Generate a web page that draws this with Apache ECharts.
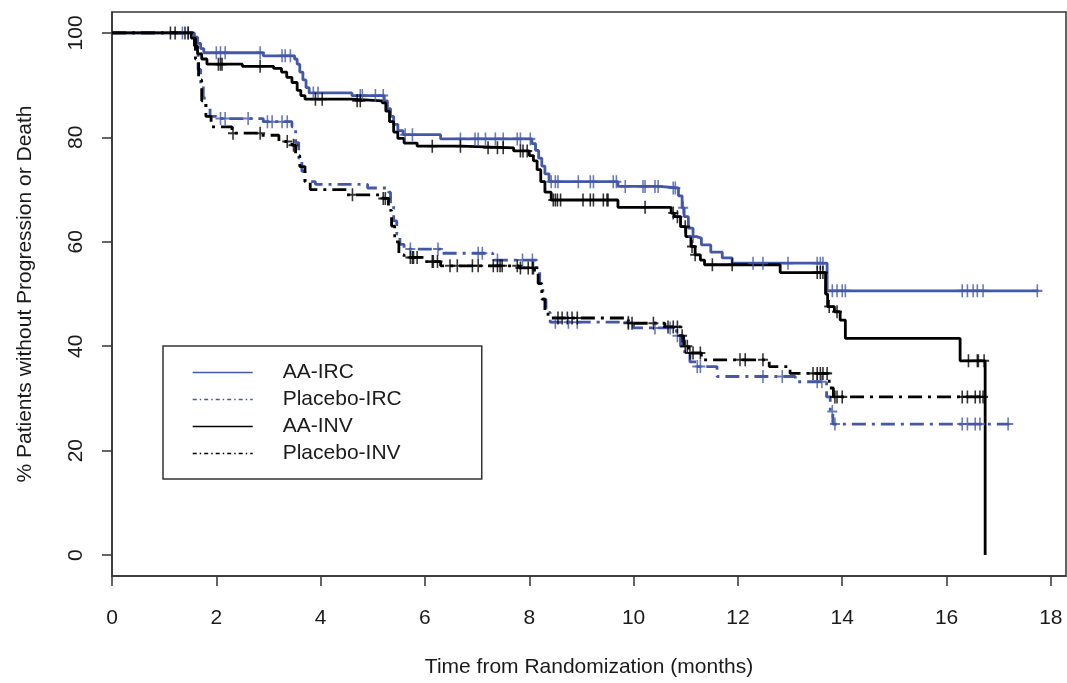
<!DOCTYPE html>
<html>
<head>
<meta charset="utf-8">
<script src="https://cdn.jsdelivr.net/npm/echarts@6/dist/echarts.min.js"></script>
<style>
html,body{margin:0;padding:0;background:#fff;}
#chart{width:1067px;height:683px;}
</style>
</head>
<body>
<div id="chart"></div>
<script>
// ---- data ----
const xTicks = [0, 2, 4, 6, 8, 10, 12, 14, 16, 18];
const yTicks = [0, 20, 40, 60, 80, 100];
const seriesNames = ['AA-IRC', 'Placebo-IRC', 'AA-INV', 'Placebo-INV'];

// Kaplan-Meier steps: [time (months), % without progression or death] from that time on
const aaIrcSteps = [
  [0,100],[1.58,99.2],[1.64,98],[1.70,97],[1.76,96.2],[2.9,95.6],[3.5,95.0],[3.55,94],[3.6,92.5],
  [3.66,91],[3.72,89.5],[3.78,88.5],[4.6,88],[5.22,87],[5.28,85.5],[5.34,84],[5.4,82.5],[5.48,81.3],
  [5.58,80.5],[6.3,79.7],[8.05,78.8],[8.12,77.5],[8.18,76],[8.24,74.5],[8.3,73],[8.38,71.5],
  [9.7,70.6],[10.5,70.3],[10.86,68.8],[10.93,66.5],[10.97,64.8],[11.05,62.6],[11.14,61],[11.2,60.7],
  [11.3,59.4],[11.48,58],[11.7,56.9],[11.89,55.9],[13.71,50.6],[17.76,50.6]
];
const placeboIrcSteps = [
  [0,100],[1.55,99],[1.6,96],[1.65,93],[1.7,90],[1.75,87.5],[1.8,85.5],[1.88,84],[2.0,83.6],
  [2.9,83],[3.45,82],[3.52,79],[3.58,76],[3.64,73.5],[3.7,71.5],[3.9,71],[4.9,70.3],[5.3,69.5],
  [5.34,67],[5.4,64],[5.46,61.5],[5.52,59.5],[5.6,58.6],[6.3,57.8],[7.3,56.5],[8.14,55],[8.2,52],
  [8.26,49],[8.32,46.5],[8.4,44.6],[10.0,43.5],[10.82,42],[10.9,40],[10.98,38.5],[11.08,37],
  [11.2,36.1],[11.6,34.2],[13.1,33.2],[13.7,30.3],[13.77,27.5],[13.82,25.1],[17.2,25.1]
];
const aaInvSteps = [
  [0,100],[1.52,99],[1.58,97.5],[1.64,96],[1.72,95],[1.82,94],[2.5,93.6],[3.1,93.2],[3.25,92.5],
  [3.35,91.5],[3.45,90.5],[3.55,89],[3.62,88],[3.7,87.3],[4.6,87],[5.18,86.6],[5.25,85],[5.32,83],
  [5.4,81],[5.48,79.8],[5.6,78.9],[5.85,78.3],[6.7,78],[7.7,77.4],[8.0,76.5],[8.08,75.5],[8.15,73.8],
  [8.22,71.5],[8.3,69.5],[8.42,68],[9.7,66.6],[10.72,65.5],[10.78,64.8],[10.9,62.9],[11.0,61],
  [11.1,59.1],[11.18,57.5],[11.28,56.5],[11.36,55.6],[12.81,54.1],[13.68,50],[13.72,47.6],
  [13.85,46.6],[13.96,45],[14.06,41.5],[16.26,37.2],[16.74,0]
];
const placeboInvSteps = [
  [0,100],[1.55,99],[1.6,95],[1.66,91],[1.72,87],[1.8,84],[1.9,82],[2.3,80.8],[2.85,80.4],
  [3.2,79.2],[3.45,78.5],[3.52,76.5],[3.6,74.4],[3.7,71.5],[3.8,70],[4.5,69],[5.2,68.3],[5.3,66],
  [5.36,63],[5.42,60],[5.5,57.5],[5.6,57],[6.0,56.2],[6.3,55.4],[7.8,55],[8.1,54.2],[8.17,52],
  [8.24,49],[8.3,46.5],[8.36,45.4],[9.9,44.4],[10.6,43.7],[10.9,42],[10.96,40],[11.05,38.7],
  [11.3,37.4],[12.6,36.1],[13.0,34.8],[13.75,32],[13.83,30.3],[16.74,30.3]
];

// censoring times (months)
const aaIrcCensor = [1.35,1.46,2.0,2.08,2.17,2.84,3.26,3.32,3.42,3.86,3.95,4.76,4.80,5.05,5.20,5.62,5.76,
  6.68,6.96,7.02,7.16,7.35,7.50,7.77,7.83,8.02,8.42,8.5,8.55,8.94,9.17,9.23,9.61,9.67,9.84,10.18,
  10.22,10.41,10.47,10.76,10.80,10.95,11.14,12.29,12.48,12.96,13.52,13.58,13.63,13.81,13.90,14.0,
  14.06,16.30,16.40,16.51,16.59,16.70,17.74];
const placeboIrcCensor = [2.08,2.17,2.61,2.98,3.07,3.26,3.36,5.72,6.25,7.02,7.10,7.39,7.87,8.06,8.50,
  8.75,8.92,9.90,10.41,10.70,10.84,11.22,11.28,12.48,12.85,13.52,13.61,13.81,13.86,16.30,16.40,
  16.55,16.64,17.18];
const aaInvCensor = [1.12,1.21,1.40,1.46,2.04,2.08,2.11,2.84,3.90,4.03,4.70,4.76,6.14,6.68,7.21,7.39,
  7.50,7.83,7.88,7.96,8.46,8.5,8.54,8.6,9.03,9.17,9.23,9.42,9.49,9.51,10.22,10.76,10.84,10.99,
  11.12,11.18,11.51,11.89,13.52,13.58,13.63,13.75,13.9,16.42,16.59,16.61,16.72];
const placeboInvCensor = [2.32,2.84,3.36,3.48,4.61,5.20,5.24,5.72,5.76,5.78,5.85,6.14,6.16,6.24,6.48,
  6.62,6.91,7.02,7.31,7.39,7.44,7.48,7.77,7.83,7.98,8.06,8.08,8.55,8.63,8.73,8.82,8.92,9.90,9.97,
  10.38,10.66,10.76,10.84,10.93,10.99,11.03,11.08,11.14,11.28,12.04,12.14,12.48,13.44,13.52,13.58,
  13.63,13.71,13.86,13.9,14.0,16.30,16.40,16.55,16.64,16.70];

// ---- build ----
function stepValue(steps, t) {
  let v = steps[0][1];
  for (const p of steps) { if (p[0] <= t) v = p[1]; else break; }
  return v;
}
function censorPoints(steps, times) { return times.map(t => [t, stepValue(steps, t)]); }

const BLUE = '#4358a9';
const BLACK = '#000000';
const DASHDOT = [14, 6, 3, 6];
const PLUS = 'path://M5,0L5,12M0,6L10,6';

const curves = [
  { name: seriesNames[0], steps: aaIrcSteps, cens: aaIrcCensor, color: BLUE, dash: 'solid' },
  { name: seriesNames[1], steps: placeboIrcSteps, cens: placeboIrcCensor, color: BLUE, dash: DASHDOT },
  { name: seriesNames[2], steps: aaInvSteps, cens: aaInvCensor, color: BLACK, dash: 'solid' },
  { name: seriesNames[3], steps: placeboInvSteps, cens: placeboInvCensor, color: BLACK, dash: DASHDOT }
];

const series = [];
curves.forEach((c, i) => {
  series.push({
    name: c.name, type: 'line', step: 'end', data: c.steps,
    showSymbol: false, symbol: 'none', z: 2 + i,
    color: c.color,
    lineStyle: { color: c.color, width: 2.8, type: c.dash },
    itemStyle: { color: c.color }
  });
});
curves.forEach((c, i) => {
  series.push({
    name: c.name + ' censored', type: 'scatter', data: censorPoints(c.steps, c.cens),
    symbol: PLUS, symbolSize: [10, 13], z: 10 + i,
    itemStyle: { color: 'rgba(0,0,0,0)', borderColor: c.color, borderWidth: 1.8 }
  });
});

const FONT = 'Liberation Sans, Arial, sans-serif';
const TXT = '#1a1a1a';

const option = {
  animation: false,
  backgroundColor: '#ffffff',
  textStyle: { fontFamily: FONT },
  grid: { left: 112, top: 12, right: 1, bottom: 106, show: true, borderColor: '#333', borderWidth: 1.5, backgroundColor: 'transparent' },
  legend: {
    data: [
      { name: 'AA-IRC' },
      { name: 'Placebo-IRC', lineStyle: { type: [4, 3, 1.5, 3] } },
      { name: 'AA-INV' },
      { name: 'Placebo-INV', lineStyle: { type: [4, 3, 1.5, 3] } }
    ],
    orient: 'vertical', left: 163, top: 346,
    itemWidth: 60, itemHeight: 14, itemGap: 0,
    padding: [13, 80, 12, 29],
    borderColor: '#333', borderWidth: 1.5, borderRadius: 0,
    lineStyle: { width: 1.4 },
    itemStyle: { opacity: 0 },
    textStyle: { fontFamily: FONT, fontSize: 21, color: TXT, lineHeight: 27, padding: [0, 0, 0, 25] },
    selectedMode: false
  },
  xAxis: {
    type: 'value', min: 0, max: 18.29,
    name: 'Time from Randomization (months)', nameLocation: 'middle', nameGap: 81,
    nameTextStyle: { fontFamily: FONT, fontSize: 21, color: TXT },
    axisLine: { show: true, onZero: false, lineStyle: { color: '#333', width: 1.5 } },
    axisTick: { show: true, length: 10, lineStyle: { color: '#333', width: 1.5 }, customValues: xTicks },
    axisLabel: { fontFamily: FONT, fontSize: 21, color: TXT, margin: 32, customValues: xTicks },
    splitLine: { show: false }
  },
  yAxis: {
    type: 'value', min: -4, max: 104,
    name: '% Patients without Progression or Death', nameLocation: 'middle', nameGap: 76, nameRotate: 90,
    nameTextStyle: { fontFamily: FONT, fontSize: 21, color: TXT },
    axisLine: { show: true, onZero: false, lineStyle: { color: '#333', width: 1.5 } },
    axisTick: { show: true, length: 10, lineStyle: { color: '#333', width: 1.5 }, customValues: yTicks },
    axisLabel: { fontFamily: FONT, fontSize: 21, color: TXT, margin: 25, rotate: 90, customValues: yTicks },
    splitLine: { show: false }
  },
  series: series
};

const chart = echarts.init(document.getElementById('chart'), null, { renderer: 'canvas' });
chart.setOption(option);
</script>
</body>
</html>
